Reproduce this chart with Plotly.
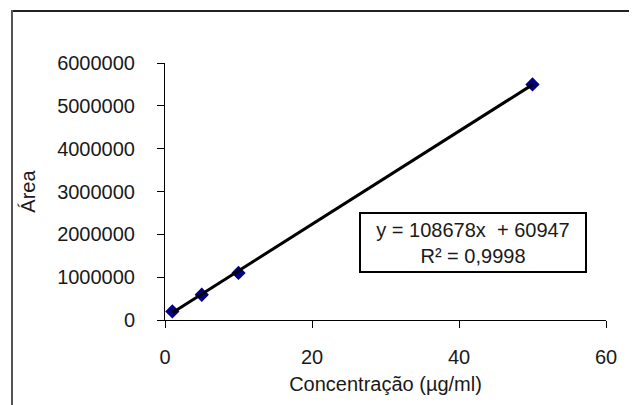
import plotly.graph_objects as go

# Data
concentracao = [1, 5, 10, 50]
area = [200000, 590000, 1100000, 5500000]
slope = 108678
intercept = 60947
r2_text = "0,9998"
x_ticks = [0, 20, 40, 60]
y_ticks = [0, 1000000, 2000000, 3000000, 4000000, 5000000, 6000000]

# page has an 8px body margin; compensate
OFF = 8
W, H = 637, 405
L, T = 165 - OFF, 63 - OFF
pw, ph = 441, 257
R = W - L - pw
B = H - T - ph

def px_to_paper_x(px):
    return (px - OFF - L) / pw

def px_to_paper_y(py):
    return (T + ph - (py - OFF)) / ph

font = dict(family="Liberation Sans, Arial, sans-serif", size=20, color="#1a1a1a")

fig = go.Figure()
fig.add_trace(go.Scatter(
    x=concentracao, y=area, mode="markers",
    marker=dict(symbol="diamond", size=11, color="#000080"),
    showlegend=False, hoverinfo="skip",
))
x_fit = [min(concentracao), max(concentracao)]
y_fit = [slope * v + intercept for v in x_fit]
fig.add_trace(go.Scatter(
    x=x_fit, y=y_fit, mode="lines",
    line=dict(color="black", width=3),
    showlegend=False, hoverinfo="skip",
))

fig.update_layout(
    width=W, height=H,
    margin=dict(l=L, r=R, t=T, b=B, pad=0),
    paper_bgcolor="white", plot_bgcolor="white",
    font=font,
    xaxis=dict(
        range=[0, 60], tickvals=x_ticks, showgrid=False, zeroline=False,
        showline=True, linecolor="black", linewidth=1,
        ticks="outside", ticklen=7, tickcolor="black",
        ticklabelstandoff=12,
        title=dict(text="Concentração (µg/ml)", font=font, standoff=9),
    ),
    yaxis=dict(
        range=[0, 6000000], tickvals=y_ticks, showgrid=False, zeroline=False,
        showline=True, linecolor="black", linewidth=1,
        ticks="outside", ticklen=7, tickcolor="black",
        tickformat="d", ticklabelstandoff=18,
        title=dict(text="Área", font=font, standoff=16),
    ),
    shapes=[
        dict(type="line", xref="paper", yref="paper",
             x0=px_to_paper_x(12), x1=px_to_paper_x(650),
             y0=px_to_paper_y(11), y1=px_to_paper_y(11),
             line=dict(color="#222", width=2)),
        dict(type="line", xref="paper", yref="paper",
             x0=px_to_paper_x(12), x1=px_to_paper_x(12),
             y0=px_to_paper_y(10), y1=px_to_paper_y(420),
             line=dict(color="#555", width=2)),
    ],
    annotations=[
        dict(xref="paper", yref="paper",
             x=px_to_paper_x(473), y=px_to_paper_y(242.5),
             xanchor="center", yanchor="middle",
             text=f"y = {slope}x  + {intercept}<br>R² = {r2_text}",
             showarrow=False, font=font, align="center",
             bordercolor="black", borderwidth=2, borderpad=0,
             bgcolor="white", width=224, height=57),
    ],
)

fig.write_html("out.html")
